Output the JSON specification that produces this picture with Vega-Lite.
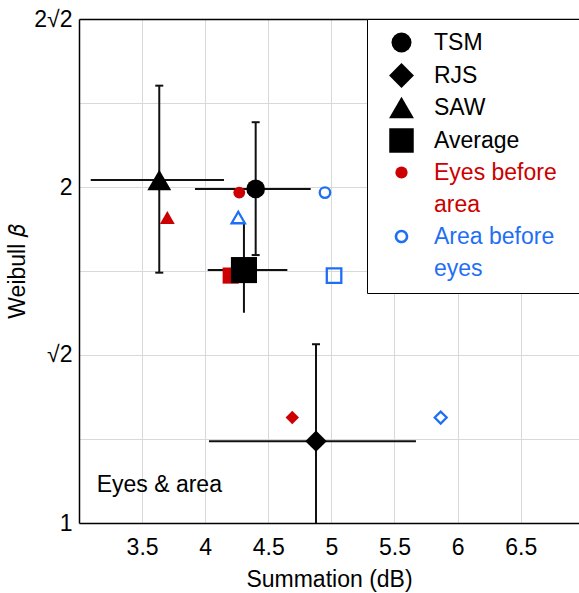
{
  "$schema": "https://vega.github.io/schema/vega-lite/v6.json",
  "width": 500,
  "height": 504,
  "autosize": "none",
  "padding": {"left": 79, "top": 19, "right": 0, "bottom": 70},
  "config": {
    "font": "Liberation Sans",
    "view": {"stroke": null},
    "style": {"guide-label": {"lineHeight": 32}},
    "axis": {
      "labelFont": "Liberation Sans", "titleFont": "Liberation Sans",
      "labelFontSize": 23, "titleFontSize": 23, "titleFontWeight": "normal",
      "labelColor": "#000", "titleColor": "#000",
      "domainColor": "#000", "domainWidth": 1.5,
      "ticks": false, "tickSize": 0,
      "gridColor": "#d9d9d9", "gridWidth": 1
    }
  },
  "datasets": {
    "avg": [
      {"observer": "TSM", "x": 4.400, "y": 1.992, "xlo": 3.919, "xhi": 4.836, "ylo": 1.738, "yhi": 2.286},
      {"observer": "RJS", "x": 4.878, "y": 1.184, "xlo": 4.030, "xhi": 5.670, "ylo": 0.95, "yhi": 1.446},
      {"observer": "SAW", "x": 3.636, "y": 2.029, "xlo": 3.093, "xhi": 4.149, "ylo": 1.676, "yhi": 2.465},
      {"observer": "Average", "x": 4.307, "y": 1.685, "xlo": 4.020, "xhi": 4.651, "ylo": 1.543, "yhi": 1.853}
    ],
    "cond": [
      {"observer": "TSM", "condition": "Eyes before area", "x": 4.270, "y": 1.977},
      {"observer": "SAW", "condition": "Eyes before area", "x": 3.700, "y": 1.878},
      {"observer": "Average", "condition": "Eyes before area", "x": 4.202, "y": 1.666},
      {"observer": "RJS", "condition": "Eyes before area", "x": 4.690, "y": 1.243},
      {"observer": "TSM", "condition": "Area before eyes", "x": 4.949, "y": 1.977},
      {"observer": "SAW", "condition": "Area before eyes", "x": 4.262, "y": 1.878},
      {"observer": "Average", "condition": "Area before eyes", "x": 5.021, "y": 1.666},
      {"observer": "RJS", "condition": "Area before eyes", "x": 5.866, "y": 1.243}
    ]
  },
  "resolve": {"axis": {"x": "independent"}, "scale": {"size": "independent", "shape": "independent"}},
  "layer": [
    {
      "data": {"name": "avg"},
      "mark": {"type": "rule", "color": "#111", "strokeWidth": 2, "clip": true},
      "encoding": {
        "x": {
          "field": "x", "type": "quantitative",
          "scale": {"domain": [3, 6.962], "nice": false, "zero": false},
          "axis": {"orient": "bottom", "values": [3.5, 4, 4.5, 5, 5.5, 6, 6.5], "format": "~g", "title": "Summation (dB)", "labelPadding": 13, "titlePadding": 9, "grid": true}
        },
        "y": {
          "field": "ylo", "type": "quantitative",
          "scale": {"type": "log", "base": 2, "domain": [1, 2.8284271], "nice": false, "zero": false},
          "axis": {
            "values": [1, 1.189207, 1.414214, 1.681793, 2, 2.378414, 2.8284],
            "labelExpr": "abs(datum.value-1)<0.01 ? '1' : abs(datum.value-1.414214)<0.01 ? '√2' : abs(datum.value-2)<0.01 ? '2' : abs(datum.value-2.8284)<0.01 ? '2√2' : ''",
            "title": "Weibull 𝛽", "grid": true, "labelPadding": 7, "titlePadding": 4, "labelOverlap": false
          }
        },
        "y2": {"field": "yhi"}
      }
    },
    {
      "data": {"name": "avg"},
      "mark": {"type": "rule", "color": "#111", "strokeWidth": 2, "clip": true},
      "encoding": {
        "x": {"field": "xlo", "type": "quantitative", "axis": {"orient": "top", "labels": false, "grid": false, "title": null, "domain": true}},
        "x2": {"field": "xhi"},
        "y": {"field": "y", "type": "quantitative"}
      }
    },
    {
      "data": {"name": "avg"},
      "transform": [{"filter": "datum.observer !== 'Average'"}],
      "mark": {"type": "tick", "orient": "horizontal", "size": 8, "thickness": 2, "color": "#111", "opacity": 1, "clip": true},
      "encoding": {
        "x": {"field": "x", "type": "quantitative", "axis": null},
        "y": {"field": "yhi", "type": "quantitative"}
      }
    },
    {
      "data": {"name": "avg"},
      "transform": [{"filter": "datum.observer === 'TSM' || datum.observer === 'SAW'"}],
      "mark": {"type": "tick", "orient": "horizontal", "size": 8, "thickness": 2, "color": "#111", "opacity": 1, "clip": true},
      "encoding": {
        "x": {"field": "x", "type": "quantitative", "axis": null},
        "y": {"field": "ylo", "type": "quantitative"}
      }
    },
    {
      "data": {"name": "cond"},
      "transform": [{"filter": "datum.condition === 'Eyes before area'"}],
      "mark": {"type": "point", "filled": true, "color": "#cc0000", "opacity": 1, "strokeWidth": 0},
      "encoding": {
        "x": {"field": "x", "type": "quantitative", "axis": null},
        "y": {"field": "y", "type": "quantitative"},
        "shape": {"field": "observer", "type": "nominal", "scale": {"domain": ["TSM", "RJS", "SAW", "Average"], "range": ["circle", "diamond", "triangle-up", "square"]}, "legend": null},
        "size": {"field": "observer", "type": "nominal", "scale": {"domain": ["TSM", "RJS", "SAW", "Average"], "range": [140, 260, 270, 280]}, "legend": null}
      }
    },
    {
      "data": {"name": "cond"},
      "transform": [{"filter": "datum.condition === 'Area before eyes'"}],
      "mark": {"type": "point", "filled": false, "color": "#1f6ff5", "opacity": 1, "strokeWidth": 2.3},
      "encoding": {
        "x": {"field": "x", "type": "quantitative", "axis": null},
        "y": {"field": "y", "type": "quantitative"},
        "shape": {"field": "observer", "type": "nominal", "scale": {"domain": ["TSM", "RJS", "SAW", "Average"], "range": ["circle", "diamond", "triangle-up", "square"]}, "legend": null},
        "size": {"field": "observer", "type": "nominal", "scale": {"domain": ["TSM", "RJS", "SAW", "Average"], "range": [110, 210, 220, 200]}, "legend": null}
      }
    },
    {
      "data": {"name": "avg"},
      "mark": {
        "type": "point", "filled": true, "opacity": 1, "strokeWidth": 0,
        "fill": {"expr": "datum.value === 'Eyes before area' ? '#cc0000' : datum.value === 'Area before eyes' ? '#1f6ff5' : '#000000'"}
      },
      "encoding": {
        "x": {"field": "x", "type": "quantitative", "axis": null},
        "y": {"field": "y", "type": "quantitative"},
        "size": {"field": "observer", "type": "nominal", "scale": {"domain": ["TSM", "RJS", "SAW", "Average"], "range": [350, 680, 620, 580]}, "legend": null},
        "shape": {
          "field": "observer", "type": "nominal",
          "scale": {
            "domain": ["TSM", "RJS", "SAW", "Average", "Eyes before area", "Area before eyes"],
            "range": ["circle", "diamond", "triangle-up", "square", "circle", "M1,0A1,1 0 1,1 -1,0A1,1 0 1,1 1,0ZM0.62,0A0.62,0.62 0 1,0 -0.62,0A0.62,0.62 0 1,0 0.62,0Z"]
          },
          "legend": {
            "title": null, "orient": "none", "legendX": 288, "legendY": 0,
            "padding": 12, "strokeColor": "#000", "fillColor": "#fff",
            "labelFontSize": 23, "labelFont": "Liberation Sans", "labelLimit": 0,
            "rowPadding": 8, "symbolOffset": 11, "labelOffset": 21,
            "symbolSize": {"expr": "datum.value === 'TSM' ? 400 : datum.value === 'RJS' ? 620 : datum.value === 'SAW' ? 620 : datum.value === 'Average' ? 600 : datum.value === 'Eyes before area' ? 150 : 185"},
            "symbolFillColor": {"expr": "datum.value === 'Eyes before area' ? '#cc0000' : datum.value === 'Area before eyes' ? '#1f6ff5' : '#000000'"},
            "symbolStrokeWidth": 0,
            "symbolOpacity": 1,
            "labelColor": {"expr": "datum.value === 'Eyes before area' ? '#cc0000' : datum.value === 'Area before eyes' ? '#1f6ff5' : '#000000'"},
            "labelBaseline": "middle",
            "labelExpr": "datum.value === 'Eyes before area' ? ['Eyes before\u2800\u2800', 'area'] : datum.value === 'Area before eyes' ? ['Area before', 'eyes'] : datum.label"
          }
        }
      }
    },
    {
      "data": {"values": [{}]},
      "mark": {"type": "text", "align": "left", "baseline": "alphabetic", "fontSize": 23, "font": "Liberation Sans", "color": "#000"},
      "encoding": {
        "x": {"datum": 3.14, "type": "quantitative", "axis": null},
        "y": {"datum": 1.0667, "type": "quantitative"},
        "text": {"value": "Eyes & area"}
      }
    }
  ]
}
